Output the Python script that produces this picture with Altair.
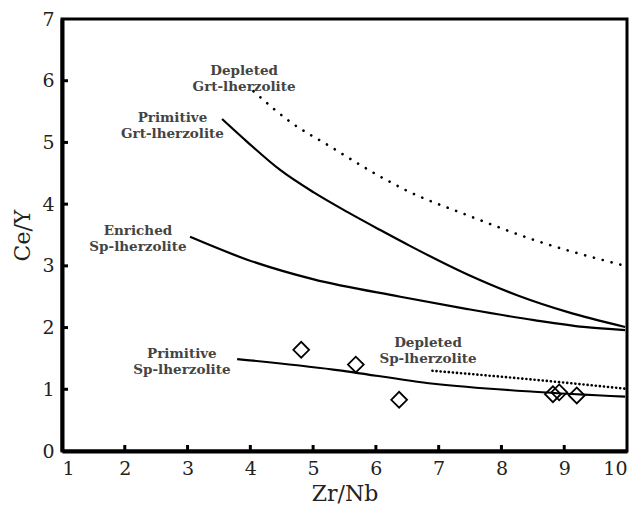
import altair as alt
import pandas as pd

# ---- data ----
prim_grt_x = [3.55, 3.95, 4.48, 5.01, 5.55, 6.07, 6.55, 7.46, 8.26, 9.06, 9.97]
prim_grt_y = [5.38, 5.01, 4.55, 4.19, 3.87, 3.58, 3.32, 2.86, 2.52, 2.25, 2.01]

depl_grt_x = [4.05, 4.64, 5.28, 5.91, 6.47, 7.46, 8.52, 9.97]
depl_grt_y = [5.83, 5.33, 4.93, 4.54, 4.23, 3.82, 3.42, 3.00]

enr_sp_x = [3.04, 3.95, 5.01, 6.39, 7.46, 8.52, 9.31, 9.97]
enr_sp_y = [3.47, 3.10, 2.78, 2.50, 2.30, 2.12, 2.01, 1.96]

prim_sp_x = [3.79, 5.32, 6.92, 8.52, 9.97]
prim_sp_y = [1.49, 1.32, 1.09, 0.96, 0.88]

depl_sp_x = [6.90, 8.47, 9.97]
depl_sp_y = [1.30, 1.16, 1.01]

sample_x = [4.81, 5.68, 6.37, 8.82, 8.92, 9.20]
sample_y = [1.64, 1.40, 0.83, 0.92, 0.95, 0.90]

label_text = ["Depleted\nGrt-lherzolite", "Primitive\nGrt-lherzolite",
              "Enriched\nSp-lherzolite", "Primitive\nSp-lherzolite",
              "Depleted\nSp-lherzolite"]
label_x = [3.90, 2.76, 2.21, 2.91, 6.83]
label_y = [6.16, 5.39, 3.56, 1.57, 1.75]

x_ticks = [1, 2, 3, 4, 5, 6, 7, 8, 9, 10]
y_ticks = [0, 1, 2, 3, 4, 5, 6, 7]
x_inner_ticks = [2, 3, 4, 5, 6, 7, 8, 9]
y_inner_ticks = [1, 2, 3, 4, 5, 6]

W, H = 565, 432

xs = alt.Scale(domain=[1, 10], nice=False, zero=False)
ys = alt.Scale(domain=[0, 7], nice=False, zero=False)


def X():
    return alt.X("x:Q", scale=xs, title="Zr/Nb",
                 axis=alt.Axis(values=x_ticks, format="d"))


def Y():
    return alt.Y("y:Q", scale=ys, title="Ce/Y",
                 axis=alt.Axis(values=y_ticks, format="d"))


def line_df(xv, yv):
    return pd.DataFrame({"x": xv, "y": yv})


def solid(xv, yv):
    return alt.Chart(line_df(xv, yv)).mark_line(
        color="black", strokeWidth=2.2, interpolate="monotone"
    ).encode(x=X(), y=Y())


def dotted(xv, yv, gap):
    return alt.Chart(line_df(xv, yv)).mark_line(
        color="black", strokeWidth=2.6, strokeCap="round",
        strokeDash=[0.1, gap], interpolate="monotone"
    ).encode(x=X(), y=Y())


points = alt.Chart(line_df(sample_x, sample_y)).mark_point(
    shape="diamond", size=250, filled=False, color="black", strokeWidth=1.8, opacity=1
).encode(x=X(), y=Y())

labels = alt.Chart(pd.DataFrame({"x": label_x, "y": label_y, "t": label_text})).mark_text(
    font="DejaVu Serif", fontSize=13.5, fontWeight="bold", color="#444", lineBreak="\n",
    lineHeight=16, align="center", baseline="middle"
).encode(x=X(), y=Y(), text="t:N")

xtick_marks = alt.Chart(pd.DataFrame({"x": x_inner_ticks})).mark_rule(
    color="black", strokeWidth=3
).encode(x=X(), y=alt.value(H), y2=alt.value(H - 6))

ytick_marks = alt.Chart(pd.DataFrame({"y": y_inner_ticks})).mark_rule(
    color="black", strokeWidth=3
).encode(y=Y(), x=alt.value(0), x2=alt.value(6))

chart = alt.layer(
    dotted(depl_grt_x, depl_grt_y, 9),
    solid(prim_grt_x, prim_grt_y),
    solid(enr_sp_x, enr_sp_y),
    solid(prim_sp_x, prim_sp_y),
    dotted(depl_sp_x, depl_sp_y, 4),
    points,
    labels,
    xtick_marks,
    ytick_marks,
).properties(
    width=W, height=H, autosize="none",
    padding={"left": 54, "top": 11, "right": 9, "bottom": 55},
    background="white",
).configure_view(
    stroke="black", strokeWidth=3
).configure_axis(
    grid=False, ticks=False, tickSize=0, domainColor="black", domainWidth=4,
    labelFont="DejaVu Serif", labelFontSize=19, labelColor="#222",
    titleFont="DejaVu Serif", titleFontSize=22, titleFontWeight="normal", titleColor="#222",
    labelPadding=8,
).configure_axisX(
    titlePadding=5,
).configure_axisY(
    titlePadding=7, labelAngle=0,
)

chart.save("out.html", embed_options={"renderer": "svg", "actions": False})
